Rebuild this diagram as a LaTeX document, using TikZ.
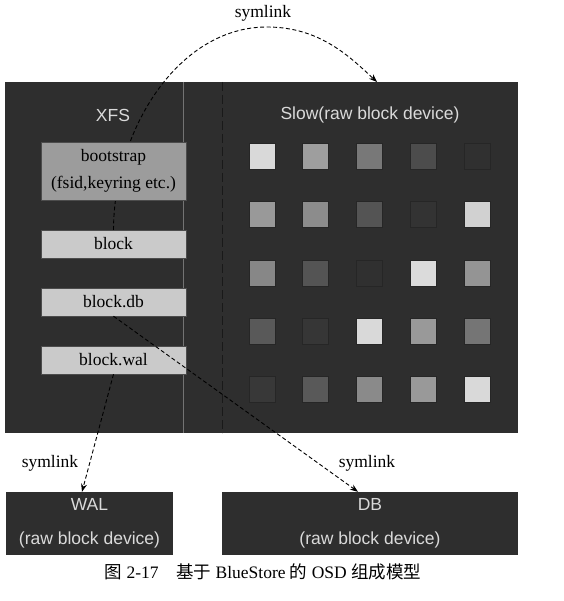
\documentclass[tikz,border=0pt]{standalone}
\usepackage{fontspec}
\setmainfont{Liberation Serif}
\setsansfont{Liberation Sans}
\newfontfamily\cjk{Noto Sans CJK SC}
\usetikzlibrary{arrows.meta,calc}
\pgfdeclarelayer{back}
\pgfdeclarelayer{mid}
\pgfsetlayers{back,mid,main}
\definecolor{panelc}{HTML}{2E2E2E}
\definecolor{lighttext}{HTML}{DADADA}
\definecolor{bootc}{HTML}{9C9C9C}
\definecolor{filec}{HTML}{CACACA}
\begin{document}
\begin{tikzpicture}[x=1pt,y=-1pt,
  darkbox/.style={draw=none, fill=panelc, inner sep=0pt},
  filebox/.style={draw=black!70, line width=0.4pt, fill=filec, inner sep=0pt, minimum width=145pt, minimum height=28pt, font=\fontsize{17.5}{27}\selectfont, align=center},
  sanslabel/.style={font=\sffamily\fontsize{17.5}{34}\selectfont, text=lighttext, align=center},
  seriflabel/.style={font=\fontsize{17.5}{21}\selectfont, text=black},
  sq/.style={draw=black!85, line width=0.7pt, minimum size=26pt, inner sep=0pt},
  link/.style={draw=black, line width=0.9pt, dash pattern=on 4pt off 2.5pt, -{Stealth[length=8pt,width=6pt]}}]
\useasboundingbox (0,0) rectangle (563,601);
\begin{pgfonlayer}{back}
  \node[darkbox, minimum width=513pt, minimum height=351pt] (panel) at (261.5,257.5) {};
  \draw[black!55, line width=0.8pt] (183,82) -- (183,433);
  \draw[black!90, line width=0.9pt, dash pattern=on 9pt off 4pt] (222,82) -- (222,433);
\end{pgfonlayer}
\node[sanslabel] (xfs) at (113,115) {XFS};
\node[sanslabel] (slow) at (370,115) {Slow(raw block device)};
\node[filebox, fill=bootc, minimum height=58pt] (boot) at (113.5,171) {bootstrap\\(fsid,keyring etc.)};
\node[filebox] (block) at (113.5,244) {block};
\node[filebox] (blockdb) at (113.5,302) {block.db};
\node[filebox] (blockwal) at (113.5,360) {block.wal};
% squares
\def\sqrows{{{85,62,47,30,19},{60,55,33,20,82},{53,33,19,86,58},{35,21,85,60,46},{22,35,54,60,85}}}
\foreach \j in {0,...,4}{
  \foreach \i in {0,...,4}{
    \pgfmathtruncatemacro{\lv}{\sqrows[\j][\i]}
    \node[sq, fill=white!\lv!black] (s\j\i) at ({262+53.75*\i},{156.5+58.25*\j}) {};
  }
}
\node[darkbox, minimum width=167pt, minimum height=63pt, sanslabel] (wal) at (89.5,523.5) {WAL\\(raw block device)};
\node[darkbox, minimum width=296pt, minimum height=63pt, sanslabel] (db) at (370,523.5) {DB\\(raw block device)};
\node[seriflabel] (lbltop) at (263,13) {symlink};
\node[seriflabel] (lblwal) at (50,463) {symlink};
\node[seriflabel] (lbldb) at (367,463) {symlink};
\node[font=\fontsize{17.5}{21}\selectfont] (caption) at (263,572) {{\cjk 图} 2-17\hspace{1em}{\cjk 基于} BlueStore {\cjk 的} OSD {\cjk 组成模型}};
\coordinate (slowin) at (377,82);
\coordinate (walin) at ($(wal.north)+(-7.5,0)$);
\coordinate (dbin) at ($(db.north)+(-12,0)$);
\begin{pgfonlayer}{mid}
  \draw[link] (block.north) .. controls (114,130) and (178,27) .. (267,27) .. controls (320,27) and (350,57) .. (slowin);
\end{pgfonlayer}
\draw[link] (blockwal.south) -- (walin);
\draw[link] (blockdb.south) -- (dbin);
\end{tikzpicture}
\end{document}
